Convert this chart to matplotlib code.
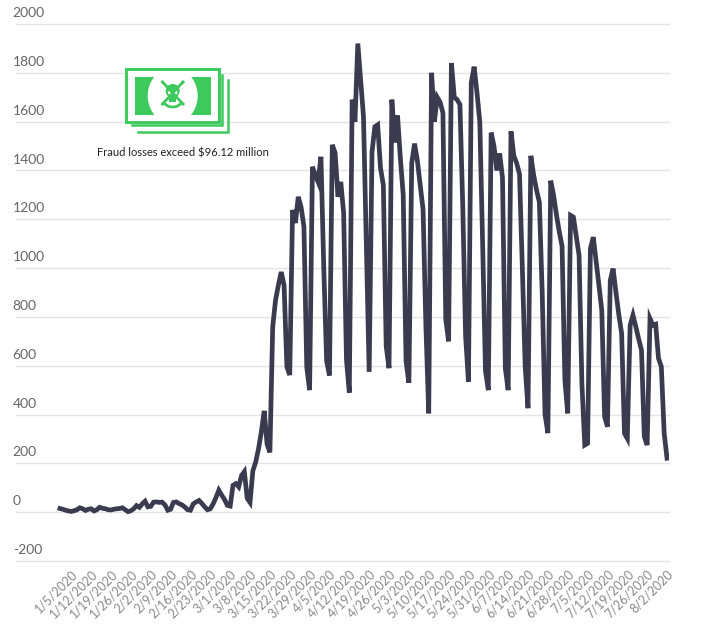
import matplotlib
matplotlib.use("Agg")
import matplotlib.pyplot as plt
from matplotlib.patches import Rectangle, Ellipse, Circle, Arc

# daily values, 1/1/2020 .. 8/2/2020
early = [15, 12, 8, 5, 3, 6, 10, 18, 14, 7, 12, 14, 5, 10, 20, 16, 14, 10, 9, 12,
         14, 15, 18, 10, 2, 6, 14, 27, 20, 34, 45, 22, 24, 41, 42, 40, 41, 30, 8, 12,
         40, 42, 35, 30, 21, 10, 8, 34, 42, 48, 36, 22, 10, 14, 34, 60, 90, 70, 52, 28,
         25, 110, 117, 104, 150, 166, 57, 40, 170, 205, 260, 330, 415, 280, 245]
weeks = [
    [760, 869, 930, 984, 930, 595, 562],
    [1238, 1185, 1292, 1250, 1170, 595, 500],
    [1415, 1382, 1353, 1456, 1000, 620, 560],
    [1505, 1472, 1292, 1353, 1226, 623, 490],
    [1690, 1600, 1920, 1770, 1620, 1090, 575],
    [1475, 1579, 1587, 1410, 1340, 680, 590],
    [1690, 1515, 1625, 1450, 1300, 620, 530],
    [1430, 1510, 1440, 1340, 1240, 760, 405],
    [1800, 1600, 1700, 1680, 1636, 790, 700],
    [1840, 1700, 1690, 1670, 1250, 720, 535],
    [1760, 1825, 1720, 1600, 1100, 580, 500],
    [1555, 1500, 1400, 1470, 1370, 590, 500],
    [1560, 1460, 1430, 1385, 1000, 596, 426],
    [1460, 1380, 1320, 1270, 900, 400, 324],
    [1358, 1300, 1220, 1150, 1090, 540, 405],
    [1216, 1209, 1130, 1052, 527, 275, 282],
    [1080, 1127, 1030, 930, 827, 391, 350],
    [950, 998, 900, 810, 732, 323, 302],
    [766, 807, 760, 710, 664, 309, 275],
    [793, 766, 770, 630, 596, 323, 221],
]
values = early + [v for w in weeks for v in w]
days = list(range(len(values)))

tick_labels = ["1/5/2020", "1/12/2020", "1/19/2020", "1/26/2020", "2/2/2020",
               "2/9/2020", "2/16/2020", "2/23/2020", "3/1/2020", "3/8/2020",
               "3/15/2020", "3/22/2020", "3/29/2020", "4/5/2020", "4/12/2020",
               "4/19/2020", "4/26/2020", "5/3/2020", "5/10/2020", "5/17/2020",
               "5/24/2020", "5/31/2020", "6/7/2020", "6/14/2020", "6/21/2020",
               "6/28/2020", "7/5/2020", "7/12/2020", "7/19/2020", "7/26/2020",
               "8/2/2020"]
tick_pos = [4 + 7 * k for k in range(len(tick_labels))]
y_ticks = list(range(-200, 2001, 200))

GREEN = "#3ec95c"
LINE = "#3a3b4f"

fig = plt.figure(figsize=(7.06, 6.35), dpi=100)
ax = fig.add_axes([16 / 706, 74 / 635, 653 / 706, 537 / 635])

ax.plot(days, values, color=LINE, lw=3.4, solid_joinstyle="miter")
ax.set_xlim(-15.5, 214.7)
ax.set_ylim(-200, 2000)

ax.set_yticks(y_ticks)
ax.set_yticklabels([])
ax.yaxis.grid(True, color="#e4e4e4", lw=1)
for gl in ax.get_ygridlines():
    gl.set_clip_on(False)
ax.tick_params(axis="y", length=0)
for v in y_ticks:
    ax.text(-0.005, v + 20, str(v), transform=ax.get_yaxis_transform(),
            ha="left", va="bottom", fontsize=10, color="#666666",
            family="Lato")

ax.set_xticks(tick_pos)
ax.set_xticklabels(tick_labels, rotation=45, ha="right", va="top",
                   rotation_mode="anchor", fontsize=9, color="#8a8a8a",
                   family="Lato")
ax.tick_params(axis="x", length=0, pad=5)
for s in ax.spines.values():
    s.set_visible(False)
ax.set_axisbelow(True)

# icon drawn in pixel coordinates
ov = fig.add_axes([0, 0, 1, 1])
ov.set_xlim(0, 706)
ov.set_ylim(635, 0)
ov.axis("off")

ov.plot([138.3, 228.3, 228.3], [132, 132, 80.3], color=GREEN, lw=1.8,
        solid_joinstyle="miter")
ov.plot([131.7, 221.7, 221.7], [125.3, 125.3, 75.3], color=GREEN, lw=1.8,
        solid_joinstyle="miter")
ov.add_patch(Rectangle((126, 68.7), 93.3, 53.3, fill=True, fc="white",
                       ec=GREEN, lw=2.1))
inner = Rectangle((135, 77), 75.7, 37.7, fc=GREEN, ec="none")
ov.add_patch(inner)
oval = Ellipse((172.7, 95.8), 50, 56, fc="white", ec="none")
ov.add_patch(oval)
oval.set_clip_path(inner)

# skull and crossbones
ov.plot([162.5, 183], [82, 104], color=GREEN, lw=2.0, solid_capstyle="round")
ov.plot([183, 162.5], [82, 104], color=GREEN, lw=2.0, solid_capstyle="round")
for bx, by in [(162.5, 82), (183, 82), (162.5, 104), (183, 104)]:
    ov.add_patch(Circle((bx, by), 1.6, fc=GREEN, ec="none"))
ov.add_patch(Circle((172.7, 91), 8.6, fc="white", ec="none"))
ov.add_patch(Circle((172.7, 91), 7.0, fc=GREEN, ec="none"))
ov.add_patch(Rectangle((169.2, 95), 7, 6.5, fc=GREEN, ec="none"))
ov.add_patch(Circle((169.9, 92.5), 2.0, fc="white", ec="none"))
ov.add_patch(Circle((175.5, 92.5), 2.0, fc="white", ec="none"))
ov.add_patch(Arc((172.7, 99.5), 19, 15, theta1=25, theta2=155,
                 color=GREEN, lw=2.0))

ov.text(183, 153, "Fraud losses exceed $96.12 million", ha="center",
        va="center", fontsize=8, color="#222222", family="Lato")

fig.savefig("out.png", dpi=100)
